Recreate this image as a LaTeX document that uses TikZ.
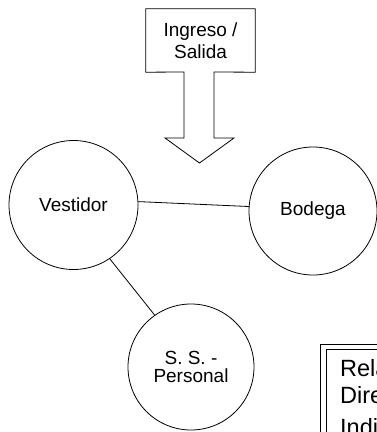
\documentclass[tikz,border=0pt]{standalone}
\usepackage{fontspec}
\setmainfont{Liberation Sans}
\usepackage{tikz}
\usetikzlibrary{calc,positioning}
\newcommand{\roomfont}{\fontsize{19}{22}\selectfont}
\newcommand{\legendfont}{\fontsize{23.5}{27}\selectfont}
\tikzset{
  link/.style={line width=0.8pt,black},
  room/.style={circle,draw,line width=0.8pt,inner sep=0pt,align=center,font=\roomfont},
  entrybox/.style={rectangle,draw=none,minimum width=109pt,minimum height=63pt,inner sep=0pt,align=center,font=\roomfont},
  legendtext/.style={anchor=base west,inner sep=0pt,font=\legendfont}
}

\begin{document}
\begin{tikzpicture}[x=1pt,y=-1pt]
  \useasboundingbox (0,0) rectangle (377,432);
  \clip (0,0) rectangle (377,432);
  % entrada con flecha hacia abajo
  \node[entrybox] (io) at (200.5,40.5) {Ingreso /\\Salida};
  \coordinate (shaftL) at (184,72);
  \coordinate (shaftR) at (214,72);
  \draw[link,line join=miter] (io.south west) -- (io.north west) -- (io.north east) -- (io.south east)
    -- (shaftR) -- (214,138) -- (234,138) -- (199.5,163) -- (165,138) -- (184,138) -- (shaftL) -- cycle;
  % ambientes
  \node[room,minimum size=129pt] (vest) at (73.5,205) {Vestidor};
  \node[room,minimum size=128pt] (bod) at (313,211) {Bodega};
  \node[room,minimum size=126pt,font=\fontsize{19}{18.5}\selectfont] (ss) at (191,367) {S. S. -\\Personal};
  \draw[link] (vest.3) -- (bod.176);
  \draw[link] (vest.-56) -- (ss.125);
  % leyenda
  \draw[link] (320,344) rectangle (420,470);
  \draw[link] (326,349) rectangle (420,470);
  \node[legendtext] (legA) at (340,376) {Relación};
  \node[legendtext] (legB) at (340,403) {Directa};
  \node[legendtext] (legC) at (340,435) {Indirecta};
\end{tikzpicture}
\end{document}
